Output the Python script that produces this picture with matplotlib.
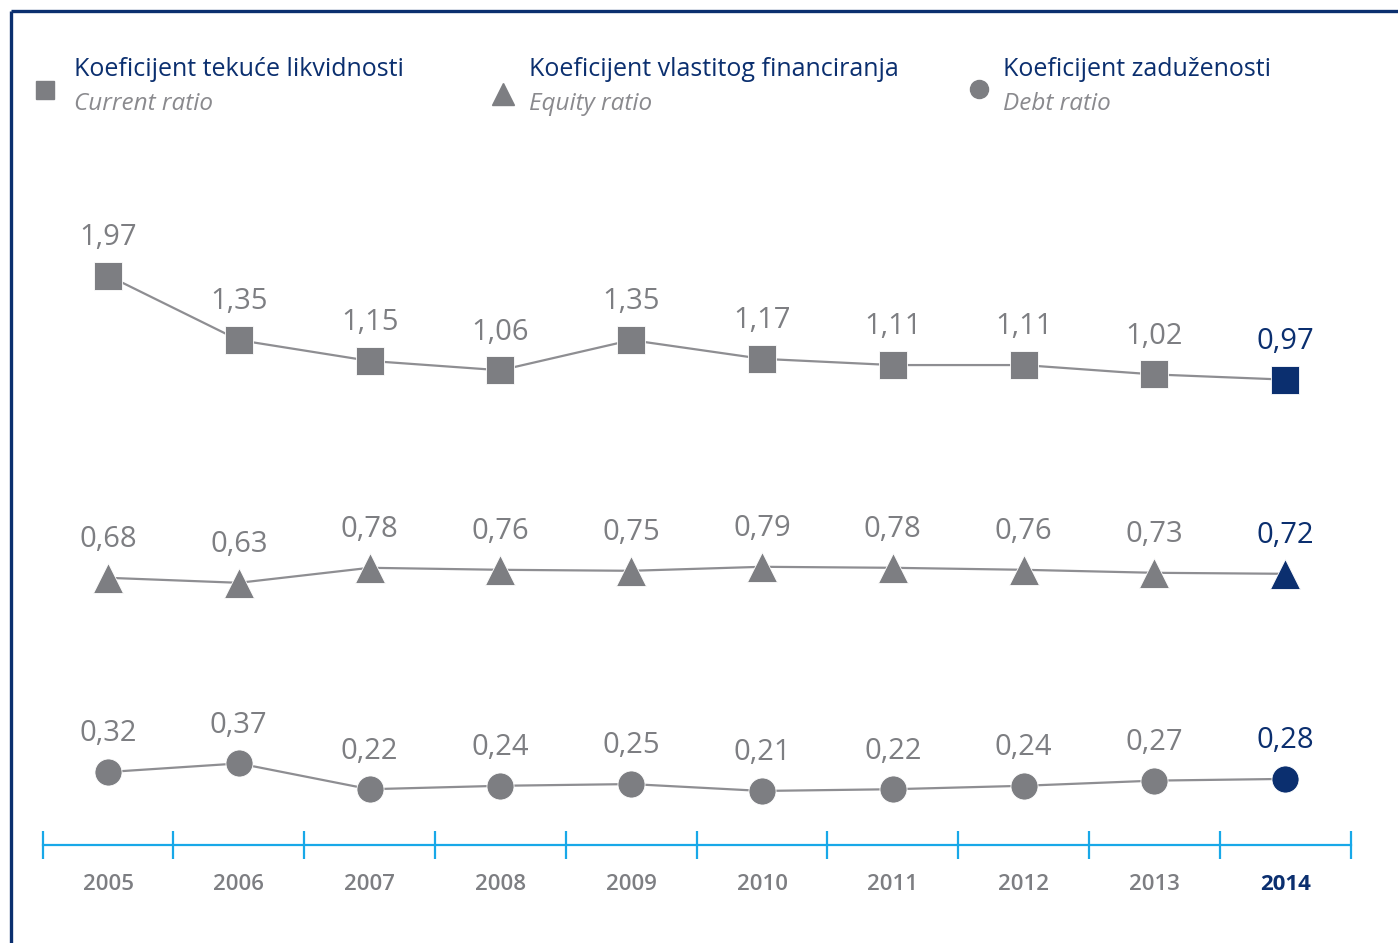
import matplotlib
matplotlib.use("Agg")
import matplotlib.pyplot as plt

plt.rcParams['font.family'] = ['Open Sans', 'DejaVu Sans']

# data
years = [2005, 2006, 2007, 2008, 2009, 2010, 2011, 2012, 2013, 2014]
current_ratio = [1.97, 1.35, 1.15, 1.06, 1.35, 1.17, 1.11, 1.11, 1.02, 0.97]
equity_ratio = [0.68, 0.63, 0.78, 0.76, 0.75, 0.79, 0.78, 0.76, 0.73, 0.72]
debt_ratio = [0.32, 0.37, 0.22, 0.24, 0.25, 0.21, 0.22, 0.24, 0.27, 0.28]
legend_hr = ['Koeficijent tekuće likvidnosti', 'Koeficijent vlastitog financiranja',
             'Koeficijent zaduženosti']
legend_en = ['Current ratio', 'Equity ratio', 'Debt ratio']

W, H = 1398, 943
GRAY = '#7d7e82'
LINE = '#8e8e92'
NAVY = '#0b2f6f'
BLUE = '#18a8e8'

fig = plt.figure(figsize=(W / 100, H / 100), dpi=100)

# x mapping: year -> pixel
px_per_year = 130.8
x0_px = 108
xlim = (2005 - x0_px / px_per_year, 2005 + (W - x0_px) / px_per_year)


def band_axes(top_px, bot_px, v_ref, px_ref, px_per_unit):
    ax = fig.add_axes([0, 1 - bot_px / H, 1, (bot_px - top_px) / H])
    ax.set_xlim(*xlim)
    ax.set_ylim(v_ref - (bot_px - px_ref) / px_per_unit,
                v_ref + (px_ref - top_px) / px_per_unit)
    ax.axis('off')
    return ax


def fmt(v):
    return f'{v:.2f}'.replace('.', ',')


series = [
    (current_ratio, 's', 20, band_axes(180, 430, 1.226, 353, 104)),
    (equity_ratio, '^', 22, band_axes(480, 640, 0.738, 572, 100)),
    (debt_ratio, 'o', 19.5, band_axes(690, 830, 0.262, 782, 172)),
]

for vals, mk, ms, ax in series:
    ax.plot(years, vals, color=LINE, lw=1.6, zorder=1)
    ax.plot(years[:-1], vals[:-1], ls='none', marker=mk, ms=ms,
            color=GRAY, mec='white', mew=0.6, zorder=2)
    ax.plot(years[-1:], vals[-1:], ls='none', marker=mk, ms=ms,
            color=NAVY, mec='white', mew=0.6, zorder=3)
    for i, (x, v) in enumerate(zip(years, vals)):
        ax.annotate(fmt(v), (x, v), xytext=(0, 17), textcoords='offset points',
                    ha='center', va='bottom', fontsize=21,
                    color=NAVY if i == len(vals) - 1 else GRAY)

# time axis
axx = fig.add_axes([0, 1 - 845 / H, 1, 0.001])
axx.patch.set_visible(False)
axx.set_xlim(*xlim)
for s in ['left', 'right', 'top']:
    axx.spines[s].set_visible(False)
axx.spines['bottom'].set_color(BLUE)
axx.spines['bottom'].set_linewidth(1.6)
axx.spines['bottom'].set_bounds(years[0] - 0.5, years[-1] + 0.5)
axx.set_yticks([])
axx.set_xticks(years)
axx.set_xticklabels([str(y) for y in years])
axx.set_xticks([y - 0.5 for y in years] + [years[-1] + 0.5], minor=True)
axx.tick_params(axis='x', which='major', length=0, pad=21, labelsize=16,
                labelcolor=GRAY)
axx.tick_params(axis='x', which='minor', direction='inout', length=20,
                width=1.6, color=BLUE)
for lbl in axx.get_xticklabels():
    lbl.set_fontweight('semibold')
axx.get_xticklabels()[-1].set_color(NAVY)
axx.get_xticklabels()[-1].set_fontweight('bold')

# overlay in pixel coordinates: frame and legend
ov = fig.add_axes([0, 0, 1, 1], zorder=-1)
ov.set_xlim(0, W)
ov.set_ylim(H, 0)
ov.axis('off')
ov.plot([11, W], [11, 11], color=NAVY, lw=2.4, solid_capstyle='butt')
ov.plot([11, 11], [11, H], color=NAVY, lw=2.4, solid_capstyle='butt')

leg_marks = [('s', 13, 45, 90), ('^', 16, 503, 94), ('o', 13, 979, 89)]
leg_text_x = [74, 529, 1003]
for (mk, ms, mx, my), tx, hr, en in zip(leg_marks, leg_text_x, legend_hr, legend_en):
    ov.plot([mx], [my], marker=mk, ms=ms, color=GRAY, ls='none')
    ov.text(tx, 69, hr, fontsize=18, color=NAVY, va='center', ha='left')
    ov.text(tx, 104, en, fontsize=17.5, color='#8a8a8e', style='italic',
            va='center', ha='left')

fig.savefig('out.png', dpi=100)
